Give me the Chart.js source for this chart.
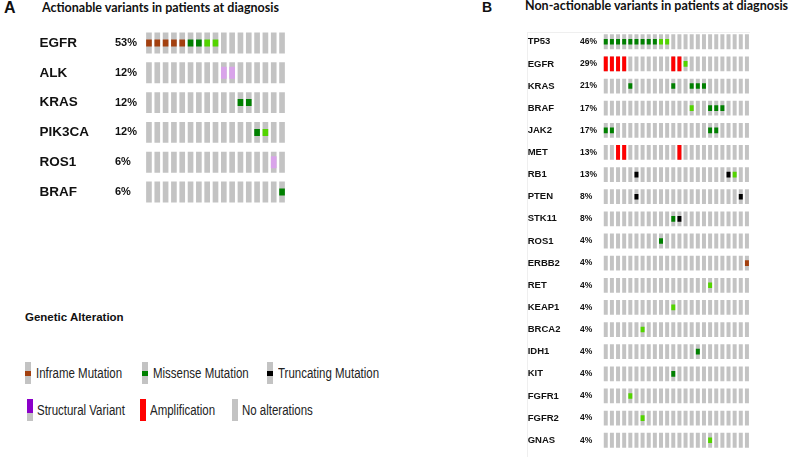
<!DOCTYPE html>
<html>
<head>
<meta charset="utf-8">
<script src="https://cdn.jsdelivr.net/npm/chart.js@4.4.1/dist/chart.umd.min.js"></script>
<style>
body{margin:0;background:#fff;width:791px;height:457px;overflow:hidden;position:relative;font-family:"Liberation Sans",Arial,sans-serif;color:#111}
.abs{position:absolute;white-space:nowrap}
.panel{font:bold 16px "Liberation Sans",Arial,sans-serif;line-height:16px}
.title{font:bold 12.5px Lato,"Liberation Sans",sans-serif;line-height:12px}
.lgtitle{font:bold 11.5px "Liberation Sans",Arial,sans-serif;line-height:12px}
.lg{font:14px "Liberation Sans",Arial,sans-serif;line-height:14px;color:#222;transform:scaleX(0.82);transform-origin:0 0}
.ic{position:absolute;width:6px;background:#c3c3c3}
.ic i{position:absolute;left:0;width:6px;display:block}
.frame{position:absolute;border-left:1px solid #efefef;border-top:1px solid #efefef}
</style>
</head>
<body>
<div class="abs panel" style="left:4px;top:0px">A</div>
<div class="abs title" style="left:42px;top:2px">Actionable variants in patients at diagnosis</div>
<div class="abs panel" style="left:482px;top:-1px;font-size:14px">B</div>
<div class="abs title" style="left:525px;top:0px">Non-actionable variants in patients at diagnosis</div>
<div class="frame" style="left:527px;top:32px;width:222px;height:425px"></div>

<canvas id="gridA" width="260" height="195" style="position:absolute;left:30px;top:20px"></canvas>
<canvas id="gridB" width="240" height="432" style="position:absolute;left:520px;top:25px"></canvas>

<div class="abs lgtitle" style="left:25px;top:311px">Genetic Alteration</div>
<div id="legend"></div>

<script>
// columns = samples, one char per sample
// . none, I inframe, M missense, m missense (unknown significance), T truncating, A amplification, s structural (unknown significance)
const genesA = ['EGFR', 'ALK', 'KRAS', 'PIK3CA', 'ROS1', 'BRAF'];
const pctA = ['53%', '12%', '12%', '12%', '6%', '6%'];
const rowsA = [
  'IIIIIMMmm........',
  '.........ss......',
  '...........MM....',
  '.............Mm..',
  '...............s.',
  '................M'
];

const genesB = ['TP53', 'EGFR', 'KRAS', 'BRAF', 'JAK2', 'MET', 'RB1', 'PTEN', 'STK11', 'ROS1',
  'ERBB2', 'RET', 'KEAP1', 'BRCA2', 'IDH1', 'KIT', 'FGFR1', 'FGFR2', 'GNAS'];
const pctB = ['46%', '29%', '21%', '17%', '17%', '13%', '13%', '8%', '8%', '4%',
  '4%', '4%', '4%', '4%', '4%', '4%', '4%', '4%', '4%'];
const rowsB = [
  'MMMMMMMMMmm.............',
  'AAAA.......AAm..........',
  '....M......M..MMM.......',
  '..............m..MMM....',
  'MM...............MM.....',
  '..AA........A...........',
  '.....T..............Tm..',
  '.....T................T.',
  '...........MT...........',
  '.........M..............',
  '.......................I',
  '.................m......',
  '...........m............',
  '......m.................',
  '...............M........',
  '...........M............',
  '....m...................',
  '......m.................',
  '.................m......'
];

const legendItems = [
  {label: 'Inframe Mutation', type: 'I'},
  {label: 'Missense Mutation', type: 'M'},
  {label: 'Truncating Mutation', type: 'T'},
  {label: 'Structural Variant', type: 'S'},
  {label: 'Amplification', type: 'A'},
  {label: 'No alterations', type: '.'}
];

const GRAY = '#c3c3c3';
const colors = {I: '#a3400f', M: '#008000', m: '#53d400', T: '#000000', A: '#ff0000', s: '#d9a3ea', S: '#8b00c9'};

function q(id){return document.getElementById(id)}

function buildDatasets(rows, half, barPct){
  const n = rows[0].length;
  const bg = [];
  rows.forEach((r, i)=>{
    for(let c=0;c<n;c++) bg.push({x: c, y: [i-half.bg, i+half.bg]});
  });
  const sets = [];
  Object.keys(colors).forEach(k=>{
    const data = [];
    rows.forEach((r, i)=>{
      for(let c=0;c<n;c++) if(r[c]===k){
        const h = half[k] || half.mut;
        data.push({x: c, y: [i-h, i+h]});
      }
    });
    if(data.length) sets.push({data, backgroundColor: colors[k], order: 1});
  });
  sets.push({data: bg, backgroundColor: GRAY, order: 2});
  return sets.map(s=>Object.assign(s, {borderWidth: 0, barPercentage: barPct, categoryPercentage: 1, grouped: false}));
}

function labelAxis(genes, texts, weight, width, font){
  return {
    type: 'linear', reverse: true, position: 'left', weight,
    min: -0.5, max: genes.length-0.5,
    grid: {display: false, drawTicks: false}, border: {display: false},
    ticks: {crossAlign: 'far', padding: 0, autoSkip: false, color: '#111',
      font: Object.assign({family: '"Liberation Sans", Arial, sans-serif', weight: 'bold'}, font),
      callback: (v)=>texts[v]},
    afterBuildTicks: s=>{ s.ticks = genes.map((g, i)=>({value: i})) },
    afterFit: s=>{ s.width = width }
  };
}

function makeGrid(id, genes, pct, rows, o){
  return new Chart(q(id), {
    type: 'bar',
    data: {datasets: buildDatasets(rows, o.half, o.barPct)},
    options: {
      responsive: false, animation: false, events: [],
      layout: {padding: o.pad},
      plugins: {legend: {display: false}, tooltip: {enabled: false}},
      scales: {
        x: {type: 'linear', offset: false, display: false, min: -0.5, max: rows[0].length-0.5},
        y: labelAxis(genes, genes, 2, o.wName, o.nameFont),
        yp: labelAxis(genes, pct, 1, o.wPct, o.pctFont)
      }
    }
  });
}

makeGrid('gridA', genesA, pctA, rowsA, {
  half: {bg: 0.35, mut: 0.117, A: 0.35, s: 0.2},
  barPct: 0.68,
  pad: {left: 9.5, right: 3.8, top: 6.6, bottom: 7.2},
  wName: 75.5, wPct: 29.8,
  nameFont: {size: 13.5}, pctFont: {size: 11}
});

makeGrid('gridB', genesB, pctB, rowsB, {
  half: {bg: 0.334, mut: 0.127, A: 0.334, s: 0.2},
  barPct: 0.65,
  pad: {left: 7.7, right: 10, top: 4.8, bottom: 0.8},
  wName: 52.3, wPct: 22.7,
  nameFont: {size: 9.5}, pctFont: {size: 8.5}
});

// legend swatches
const lgPos = [[25, 362, 36], [141.5, 362, 152.5], [266.5, 362, 278], [26.5, 399, 36.5], [140, 399, 150], [231.5, 399, 241.5]];
const lg = q('legend');
legendItems.forEach((it, i)=>{
  const [ix, iy, tx] = lgPos[i];
  const ic = document.createElement('div'); ic.className = 'ic';
  ic.style.left = ix+'px'; ic.style.top = iy+'px'; ic.style.height = '22px';
  const inner = document.createElement('i');
  if(it.type==='A'){ inner.style.top='0px'; inner.style.height='22px'; }
  else if(it.type==='S'){ inner.style.top='0px'; inner.style.height='14px'; }
  else if(it.type!=='.'){ inner.style.top='8.5px'; inner.style.height='5px'; }
  inner.style.background = colors[it.type] || GRAY;
  ic.appendChild(inner);
  lg.appendChild(ic);
  const t = document.createElement('div'); t.className = 'abs lg';
  t.style.left = tx+'px'; t.style.top = (iy+4)+'px'; t.textContent = it.label;
  lg.appendChild(t);
});
</script>
</body>
</html>
